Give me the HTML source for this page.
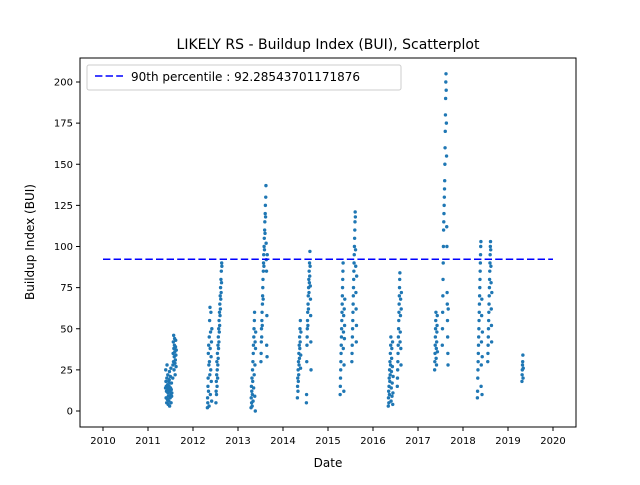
<!DOCTYPE html>
<html><head><meta charset="utf-8"><style>
body{margin:0;background:#fff;}
svg text{font-family:"DejaVu Sans","Liberation Sans",sans-serif;fill:#000;}
</style></head><body>
<svg id="chart" width="640" height="480" viewBox="0 0 640 480" xmlns="http://www.w3.org/2000/svg">
<rect width="640" height="480" fill="#fff"/>
<text x="328" y="49" font-size="14" text-anchor="middle">LIKELY RS - Buildup Index (BUI), Scatterplot</text>
<g id="xt"></g>
<g id="yt"></g>
<g id="pts"></g>
<line id="p90" stroke="#0000ff" stroke-width="1.5" stroke-dasharray="7.4,3.2"/>
<rect x="80" y="58" width="496" height="369" fill="none" stroke="#000" stroke-width="1"/>
<text x="328" y="467" font-size="12" text-anchor="middle">Date</text>
<text transform="translate(34,242) rotate(-90)" font-size="12" text-anchor="middle">Buildup Index (BUI)</text>
<g>
<rect x="87" y="65" width="314" height="25" rx="2" fill="#fff" fill-opacity="0.8" stroke="#ccc"/>
<line x1="95" y1="76" x2="123" y2="76" stroke="#0000ff" stroke-width="1.5" stroke-dasharray="7.4,3.2"/>
<text id="legtxt" x="131" y="81" font-size="12"></text>
</g>
</svg>
<script>
const xTicks=[2010,2011,2012,2013,2014,2015,2016,2017,2018,2019,2020];
const yTicks=[0,25,50,75,100,125,150,175,200];
const percentile90=92.28543701171876;
// segments: start date (decimal year), then values every 1.5 days
const segStarts=[2011.39,2011.55,2012.32,2012.51,2013.29,2013.51,2014.32,2014.52,2015.27,2015.53,2016.34,2016.54,2017.37,2017.54,2018.32,2018.55,2019.31];
const segValues=[
[14,25,18,8,15,12,5,20,28,14,7,16,22,11,4,9,18,13,6,15,19,24,3,12,17,8,21,14,10,26,5,13,17,9,11],
[20,28,35,42,30,46,38,25,33,40,44,36,29,22,31,39,43,34,27,37],
[2,8,5,15,20,35,12,40,28,3,45,30,55,22,63,38,10,48,25,60,33,18,42,6,50],
[5,12,18,10,22,30,15,25,35,20,28,40,32,45,38,50,42,55,48,60,52,65,58,70,62,75,68,80,72,85,78,90,88],
[2,8,15,5,12,20,3,10,25,18,30,6,35,40,14,45,50,22,55,60,9,28,42,0,38,48],
[30,35,42,50,45,55,60,52,65,70,75,80,68,85,90,95,88,100,105,98,110,115,108,120,125,118,130,137,102,92,85,40,58,33,95],
[8,15,20,12,25,18,30,22,35,28,40,32,45,38,50,42,55,26,34,48],
[5,10,30,40,45,50,55,60,52,65,70,62,75,80,72,85,78,90,82,97,88,76,68,58,42,25],
[10,15,20,25,30,35,40,45,50,55,60,65,70,75,80,85,90,38,48,58,12,28,62,44,52,68],
[30,35,40,45,50,55,60,65,70,75,80,85,90,95,100,105,110,115,121,118,98,88,72,62,42,52,82],
[3,8,12,5,15,20,10,25,18,30,22,35,28,40,45,6,14,24,32,38,9,17,27,42,4,11,21],
[15,20,25,30,35,40,45,50,55,60,65,70,75,80,84,42,48,58,68,38,28,62,72],
[25,30,35,40,45,50,55,60,32,38,28,42,48,52,58,36],
[40,50,60,70,80,90,100,110,115,120,125,130,135,140,150,160,170,180,190,200,205,195,175,155,112,100,72,65,55,45,35,28,62],
[8,12,20,25,30,35,40,45,50,55,60,65,70,75,80,85,90,95,100,103,15,28,42,58,68,10,33,48],
[30,35,40,45,50,55,60,65,70,75,80,85,90,95,100,103,98,88,78,62,52,42,72],
[18,22,25,28,30,34,20,26]
];
const NS='http://www.w3.org/2000/svg';
const X0=80,X1=576,Y0=58,Y1=427;
function xs(v){return 103+(v-2010)*45;}
function ys(v){return 411-v*1.645;}
const xt=document.getElementById('xt'),yt=document.getElementById('yt'),pts=document.getElementById('pts');
xTicks.forEach(t=>{
 const l=document.createElementNS(NS,'line');
 l.setAttribute('x1',xs(t));l.setAttribute('x2',xs(t));l.setAttribute('y1',Y1);l.setAttribute('y2',Y1+4);l.setAttribute('stroke','#000');
 
 
 xt.appendChild(l);
 const tx=document.createElementNS(NS,'text');
 tx.setAttribute('x',xs(t));tx.setAttribute('y',Y1+17);tx.setAttribute('font-size','10');tx.setAttribute('text-anchor','middle');
 tx.textContent=t;
 
 
 xt.appendChild(tx);
});
yTicks.forEach(t=>{
 const l=document.createElementNS(NS,'line');
 l.setAttribute('x1',X0-4);l.setAttribute('x2',X0);l.setAttribute('y1',ys(t));l.setAttribute('y2',ys(t));l.setAttribute('stroke','#000');
 
 
 yt.appendChild(l);
 const tx=document.createElementNS(NS,'text');
 tx.setAttribute('x',X0-7);tx.setAttribute('y',ys(t)+3.5);tx.setAttribute('font-size','10');tx.setAttribute('text-anchor','end');
 tx.textContent=t;
 
 
 yt.appendChild(tx);
});
segStarts.forEach((s,i)=>{
 segValues[i].forEach((v,j)=>{
  const c=document.createElementNS(NS,'circle');
  c.setAttribute('cx',xs(s+j*1.5/365));c.setAttribute('cy',ys(v));c.setAttribute('r','1.7');c.setAttribute('fill','#1f77b4');
  
  
  pts.appendChild(c);
 });
});
const p=document.getElementById('p90');
p.setAttribute('x1',xs(2010));p.setAttribute('x2',xs(2020));p.setAttribute('y1',ys(percentile90));p.setAttribute('y2',ys(percentile90));
document.getElementById('legtxt').textContent='90th percentile : '+percentile90;
</script>
</body></html>
